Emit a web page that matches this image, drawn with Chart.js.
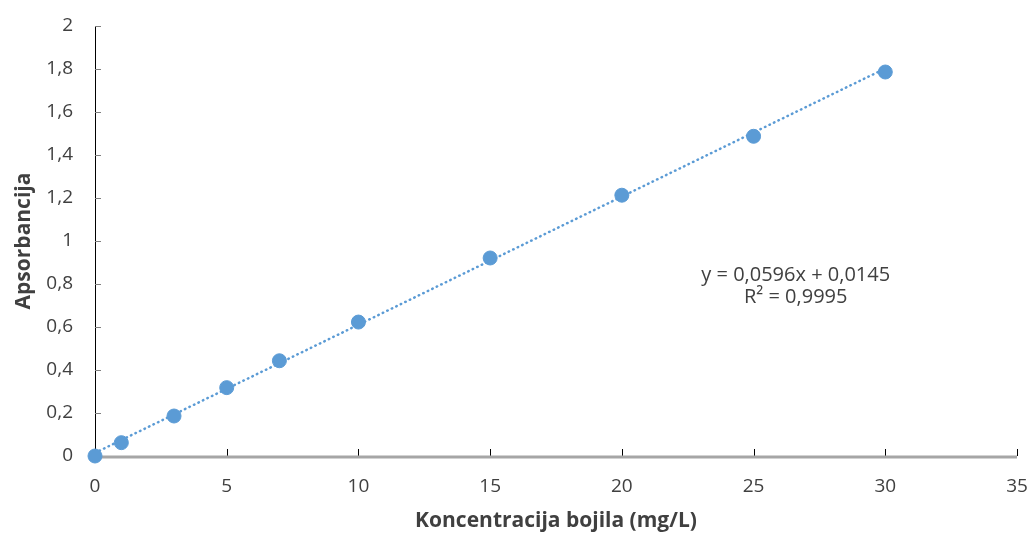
<!DOCTYPE html>
<html>
<head>
<meta charset="utf-8">
<script src="https://cdn.jsdelivr.net/npm/chart.js@4/dist/chart.umd.min.js"></script>
<style>
  html, body { margin: 0; padding: 0; background: #fff; }
  #wrap { width: 1034px; height: 539px; }
</style>
</head>
<body>
<div id="wrap"><canvas id="chart" width="1034" height="539"></canvas></div>
<script>
// measured points
var concentrations = [0, 1, 3, 5, 7, 10, 15, 20, 25, 30];
var absorbances = [0, 0.062, 0.186, 0.318, 0.443, 0.623, 0.921, 1.213, 1.487, 1.786];

// linear trendline as printed on the chart
var trendSlope = 0.0596;
var trendIntercept = 0.0145;
var trendRange = [0, 30];
var equationLines = ['y = 0,0596x + 0,0145', 'R² = 0,9995'];

var xTitle = 'Koncentracija bojila (mg/L)';
var yTitle = 'Apsorbancija';

var blue = '#5b9bd5';
var fontFam = '"Open Sans", "Liberation Sans", sans-serif';

var points = concentrations.map(function(c, i) { return { x: c, y: absorbances[i] }; });
var trendPoints = trendRange.map(function(x) { return { x: x, y: trendSlope * x + trendIntercept }; });

function commaNum(v) {
  return String(Math.round(v * 10) / 10).replace('.', ',');
}

// axis lines and inner ticks, drawn like the spreadsheet original
var axisDecor = {
  id: 'axisDecor',
  beforeDatasetsDraw: function(chart) {
    var ctx = chart.ctx, xs = chart.scales.x, ys = chart.scales.y;
    var x0 = xs.getPixelForValue(0), y0 = ys.getPixelForValue(0);
    ctx.save();
    // y axis
    ctx.strokeStyle = '#000';
    ctx.lineWidth = 1;
    ctx.beginPath();
    ctx.moveTo(Math.round(x0) + 0.5, ys.top);
    ctx.lineTo(Math.round(x0) + 0.5, y0);
    ctx.stroke();
    ctx.strokeStyle = '#7f7f7f';
    ys.ticks.forEach(function(t) {
      var py = Math.round(ys.getPixelForValue(t.value)) + 0.5;
      ctx.beginPath();
      ctx.moveTo(x0, py);
      ctx.lineTo(x0 + 6, py);
      ctx.stroke();
    });
    // x axis
    ctx.strokeStyle = '#000';
    xs.ticks.forEach(function(t) {
      var px = Math.round(xs.getPixelForValue(t.value)) + 0.5;
      ctx.beginPath();
      ctx.moveTo(px, y0 - 7);
      ctx.lineTo(px, y0);
      ctx.stroke();
    });
    ctx.strokeStyle = '#a6a6a6';
    ctx.lineWidth = 3;
    ctx.beginPath();
    ctx.moveTo(x0, y0 + 1);
    ctx.lineTo(xs.right, y0 + 1);
    ctx.stroke();
    ctx.restore();
  },
  afterDraw: function(chart) {
    var ctx = chart.ctx, xs = chart.scales.x, ys = chart.scales.y;
    ctx.save();
    ctx.fillStyle = '#404040';
    ctx.font = '20px ' + fontFam;
    ctx.textAlign = 'center';
    ctx.textBaseline = 'middle';
    var cx = xs.getPixelForValue(26.6);
    var cy = ys.getPixelForValue(0.842);
    ctx.fillText(equationLines[0], cx, cy);
    ctx.fillText(equationLines[1], cx, cy + 22);
    ctx.restore();
  }
};

var ctx = document.getElementById('chart').getContext('2d');
var chart = new Chart(ctx, {
  type: 'scatter',
  data: {
    datasets: [{
      label: 'Apsorbancija',
      data: points,
      backgroundColor: blue,
      borderColor: blue,
      pointRadius: 7,
      pointHoverRadius: 7,
      clip: false,
      order: 1
    }, {
      label: 'Trend',
      type: 'line',
      data: trendPoints,
      borderColor: blue,
      borderWidth: 2.5,
      borderDash: [0.5, 4.5],
      borderCapStyle: 'round',
      pointRadius: 0,
      fill: false,
      order: 2
    }]
  },
  options: {
    responsive: false,
    animation: false,
    layout: { padding: { left: 0, right: 17, top: 26, bottom: 0 } },
    plugins: {
      legend: { display: false },
      tooltip: { enabled: false }
    },
    scales: {
      x: {
        type: 'linear',
        min: 0,
        max: 35,
        afterFit: function(scale) {
          scale.height = 83;
          scale.paddingLeft = 0;
          scale.paddingRight = 0;
        },
        ticks: {
          stepSize: 5,
          color: '#404040',
          font: { family: fontFam, size: 19 },
          padding: 19
        },
        grid: { display: false, drawTicks: false },
        border: { display: false },
        title: {
          display: true,
          text: xTitle,
          color: '#404040',
          font: { family: fontFam, size: 21, weight: 'bold' },
          padding: { top: 0, bottom: 5 }
        }
      },
      y: {
        min: 0,
        max: 2,
        afterFit: function(scale) {
          scale.width = 95;
          scale.paddingTop = 0;
          scale.paddingBottom = 0;
        },
        ticks: {
          stepSize: 0.2,
          color: '#404040',
          font: { family: fontFam, size: 19 },
          padding: 22,
          callback: function(v) { return commaNum(v); }
        },
        grid: { display: false, drawTicks: false },
        border: { display: false },
        title: {
          display: true,
          text: yTitle,
          color: '#404040',
          font: { family: fontFam, size: 21, weight: 'bold' },
          padding: { top: 11, bottom: 0 }
        }
      }
    }
  },
  plugins: [axisDecor]
});
</script>
</body>
</html>
